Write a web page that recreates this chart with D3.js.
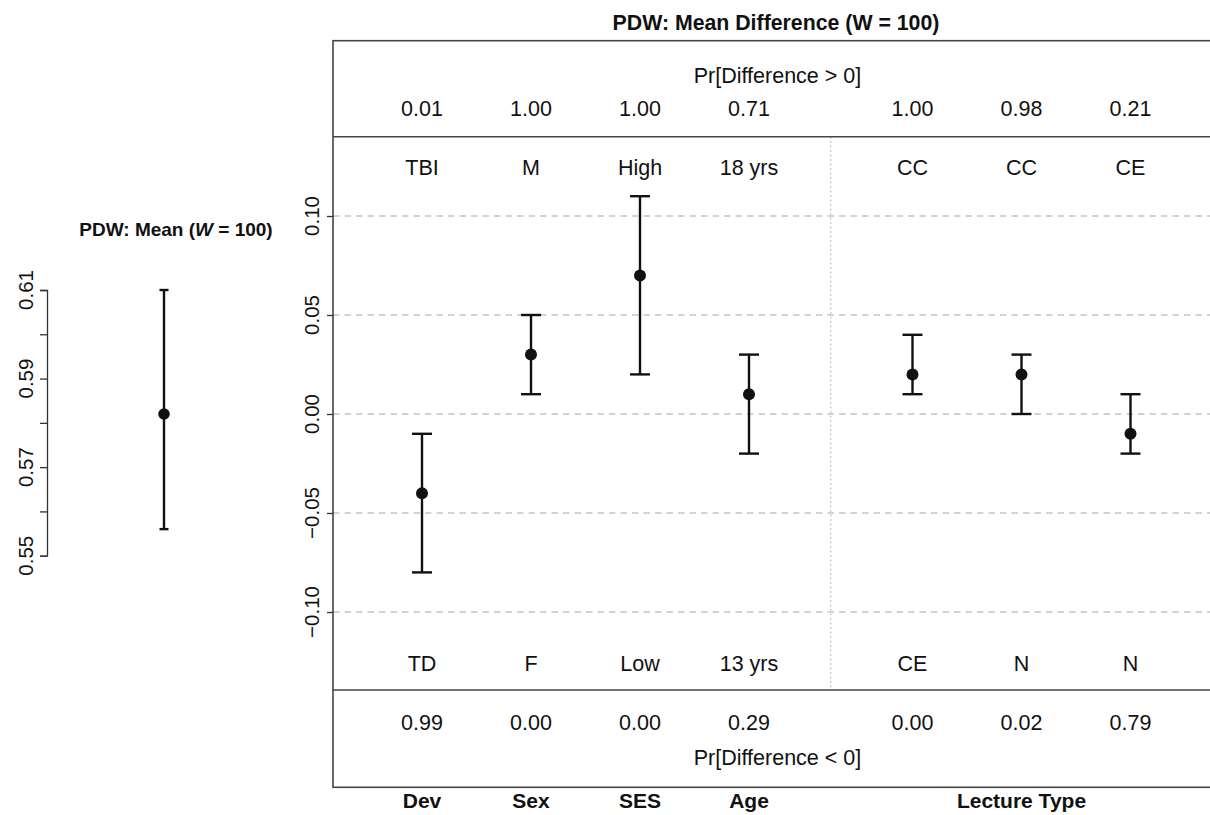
<!DOCTYPE html>
<html>
<head>
<meta charset="utf-8">
<script src="https://cdn.jsdelivr.net/npm/d3@7"></script>
<style>
  html, body { margin: 0; padding: 0; background: #fff; }
  svg { display: block; font-family: "Liberation Sans", Arial, Helvetica, sans-serif; }
</style>
</head>
<body>
<svg id="chart" width="1210" height="815"></svg>
<script>
// Overall posterior mean of PDW with its interval
const overallMean = 0.582;
const overallLower = 0.556;
const overallUpper = 0.610;
const overallTicks = [0.55, 0.56, 0.57, 0.58, 0.59, 0.60, 0.61];
const overallTickLabels = ["0.55", "", "0.57", "", "0.59", "", "0.61"];

// Pairwise mean differences (upper level minus lower level)
const factors = ["Dev", "Sex", "SES", "Age", "Lecture Type", "Lecture Type", "Lecture Type"];
const upperLevels = ["TBI", "M", "High", "18 yrs", "CC", "CC", "CE"];
const lowerLevels = ["TD", "F", "Low", "13 yrs", "CE", "N", "N"];
const meanDiff = [-0.04, 0.03, 0.07, 0.01, 0.02, 0.02, -0.01];
const lowerCI = [-0.08, 0.01, 0.02, -0.02, 0.01, 0.00, -0.02];
const upperCI = [-0.01, 0.05, 0.11, 0.03, 0.04, 0.03, 0.01];
const prGreater = [0.01, 1.00, 1.00, 0.71, 1.00, 0.98, 0.21];
const prLess = [0.99, 0.00, 0.00, 0.29, 0.00, 0.02, 0.79];
const diffTicks = [-0.10, -0.05, 0.00, 0.05, 0.10];

const svg = d3.select("#chart");
const ink = "#111";
const fontSize = 21.5;
const tickFont = 20.5;

// ---------- Left panel: overall mean ----------
const yL = d3.scaleLinear().domain([0.55, 0.61]).range([555.7, 290]);
const leftAxisX = 47;
const leftX = 164;

svg.append("text")
  .attr("x", 176).attr("y", 236)
  .attr("text-anchor", "middle")
  .attr("font-size", 19).attr("font-weight", "bold").attr("fill", ink)
  .call(t => {
    t.append("tspan").text("PDW: Mean (");
    t.append("tspan").attr("font-style", "italic").text("W");
    t.append("tspan").text(" = 100)");
  });

const gL = svg.append("g").attr("transform", `translate(${leftAxisX},0)`);
gL.call(d3.axisLeft(yL).tickValues(overallTicks).tickSize(7).tickFormat(""));
gL.select(".domain").attr("stroke", "#333").attr("stroke-width", 1.3);
gL.selectAll(".tick line").attr("stroke", "#333").attr("stroke-width", 1.3);

svg.append("g").selectAll("text")
  .data(overallTicks.map((v, i) => ({ v, s: overallTickLabels[i] })).filter(d => d.s))
  .join("text")
  .attr("transform", d => `translate(25,${yL(d.v)}) rotate(-90)`)
  .attr("text-anchor", "middle").attr("dominant-baseline", "central")
  .attr("font-size", tickFont).attr("fill", ink)
  .text(d => d.s);

svg.append("line")
  .attr("x1", leftX).attr("x2", leftX)
  .attr("y1", yL(overallLower)).attr("y2", yL(overallUpper))
  .attr("stroke", ink).attr("stroke-width", 2.4);
[overallLower, overallUpper].forEach(v => {
  svg.append("line")
    .attr("x1", leftX - 4.5).attr("x2", leftX + 4.5)
    .attr("y1", yL(v)).attr("y2", yL(v))
    .attr("stroke", ink).attr("stroke-width", 2.4);
});
svg.append("circle")
  .attr("cx", leftX).attr("cy", yL(overallMean)).attr("r", 5.8).attr("fill", ink);

// ---------- Right panel: mean differences ----------
const box = { left: 333, right: 1222, top: 40.7, upper: 136.7, lower: 690, bottom: 787.3 };

// slot index per comparison; a half-slot gap separates the lecture-type block
const slots = factors.map((f, i) => i + (f === "Lecture Type" ? 0.5 : 0));
const x = d3.scaleLinear().domain([0, 6.5]).range([422, 1130.5]);
const y = d3.scaleLinear().domain([-0.10, 0.10]).range([612, 216]);

svg.append("text")
  .attr("x", 776).attr("y", 30)
  .attr("text-anchor", "middle")
  .attr("font-size", 21.3).attr("font-weight", "bold").attr("fill", ink)
  .text("PDW: Mean Difference (W = 100)");

// dashed reference lines
svg.append("g").selectAll("line")
  .data(diffTicks).join("line")
  .attr("x1", box.left).attr("x2", box.right)
  .attr("y1", d => y(d)).attr("y2", d => y(d))
  .attr("stroke", "#c4c4c4").attr("stroke-width", 1.3)
  .attr("stroke-dasharray", "6.5,5");

// dotted divider between the demographic and lecture-type blocks
const divX = (x(slots[3]) + x(slots[4])) / 2;
svg.append("line")
  .attr("x1", divX).attr("x2", divX)
  .attr("y1", box.upper).attr("y2", box.lower)
  .attr("stroke", "#b8b8b8").attr("stroke-width", 1.3)
  .attr("stroke-dasharray", "1.5,3");

// frame and header/footer separators
const frame = svg.append("g").attr("stroke", "#444").attr("stroke-width", 1.6).attr("fill", "none");
frame.append("rect")
  .attr("x", box.left).attr("y", box.top)
  .attr("width", box.right - box.left).attr("height", box.bottom - box.top);
[box.upper, box.lower].forEach(v => {
  frame.append("line").attr("x1", box.left).attr("x2", box.right).attr("y1", v).attr("y2", v);
});

// y axis on the frame's left edge
const gR = svg.append("g").attr("transform", `translate(${box.left},0)`);
gR.call(d3.axisLeft(y).tickValues(diffTicks).tickSize(6).tickFormat(""));
gR.select(".domain").remove();
gR.selectAll(".tick line").attr("stroke", "#333").attr("stroke-width", 1.3);
svg.append("g").selectAll("text")
  .data(diffTicks).join("text")
  .attr("transform", d => `translate(311,${y(d)}) rotate(-90)`)
  .attr("text-anchor", "middle").attr("dominant-baseline", "central")
  .attr("font-size", tickFont).attr("fill", ink)
  .text(d => d3.format(".2f")(d).replace("-", "\u2212"));

// header and footer text
const rows = [
  { vals: prGreater.map(d => d.toFixed(2)), y: 116 },
  { vals: upperLevels, y: 175 },
  { vals: lowerLevels, y: 671 },
  { vals: prLess.map(d => d.toFixed(2)), y: 730 }
];
rows.forEach(r => {
  svg.append("g").selectAll("text")
    .data(r.vals).join("text")
    .attr("x", (d, i) => x(slots[i])).attr("y", r.y)
    .attr("text-anchor", "middle")
    .attr("font-size", fontSize).attr("fill", ink)
    .text(d => d);
});
const midX = (box.left + box.right) / 2;
svg.append("text").attr("x", midX).attr("y", 83)
  .attr("text-anchor", "middle").attr("font-size", fontSize).attr("fill", ink)
  .text("Pr[Difference > 0]");
svg.append("text").attr("x", midX).attr("y", 765)
  .attr("text-anchor", "middle").attr("font-size", fontSize).attr("fill", ink)
  .text("Pr[Difference < 0]");

// factor names below the frame, one per block
const factorGroups = d3.groups(factors.map((f, i) => ({ f, s: slots[i] })), d => d.f);
svg.append("g").selectAll("text")
  .data(factorGroups).join("text")
  .attr("x", d => x(d3.mean(d[1], e => e.s)))
  .attr("y", 808)
  .attr("text-anchor", "middle")
  .attr("font-size", 21).attr("font-weight", "bold").attr("fill", ink)
  .text(d => d[0]);

// interval bars and posterior means
const bars = svg.append("g").attr("stroke", ink).attr("stroke-width", 2.4);
meanDiff.forEach((m, i) => {
  const cx = x(slots[i]);
  bars.append("line").attr("x1", cx).attr("x2", cx)
    .attr("y1", y(lowerCI[i])).attr("y2", y(upperCI[i]));
  [lowerCI[i], upperCI[i]].forEach(v => {
    bars.append("line").attr("x1", cx - 10).attr("x2", cx + 10)
      .attr("y1", y(v)).attr("y2", y(v));
  });
});
svg.append("g").selectAll("circle")
  .data(meanDiff).join("circle")
  .attr("cx", (d, i) => x(slots[i])).attr("cy", d => y(d))
  .attr("r", 6).attr("fill", ink);
</script>
</body>
</html>
